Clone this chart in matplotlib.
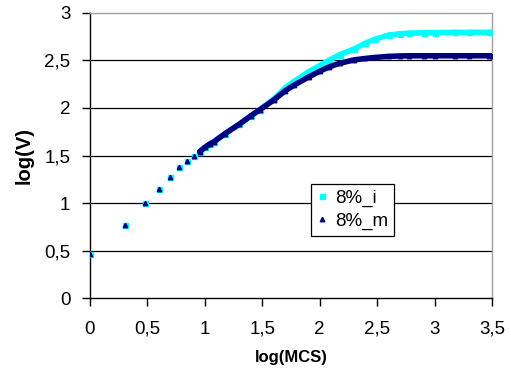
import numpy as np
import matplotlib
matplotlib.use("Agg")
import matplotlib.pyplot as plt
from matplotlib.ticker import FuncFormatter, MultipleLocator

plt.rcParams['font.family'] = ['Liberation Sans', 'DejaVu Sans']

# MCS steps (x axis is log10 of these)
mcs = [1, 2, 3, 4, 5, 6, 7, 8, 9, 10, 11, 12, 15, 20, 25, 30, 40, 50, 60,
       80, 100, 120, 150, 200, 250, 300, 400, 500, 600, 800, 1000, 1500,
       2000, 3000, 3160]

# log(V)
logv_i = [0.47, 0.77, 1.00, 1.145, 1.275, 1.375, 1.445, 1.50, 1.54, 1.585,
          1.62, 1.645, 1.73, 1.83, 1.915, 1.98, 2.095, 2.21, 2.28,
          2.38, 2.445, 2.50, 2.56, 2.62, 2.68, 2.72, 2.766, 2.78, 2.785,
          2.79, 2.792, 2.794, 2.794, 2.795, 2.795]
logv_m = [0.47, 0.77, 1.00, 1.145, 1.275, 1.375, 1.445, 1.50, 1.54, 1.585,
          1.62, 1.645, 1.73, 1.83, 1.915, 1.98, 2.085, 2.18, 2.24,
          2.325, 2.385, 2.43, 2.47, 2.505, 2.52, 2.53, 2.542, 2.546, 2.548,
          2.548, 2.548, 2.548, 2.548, 2.548, 2.548]

x = np.log10(mcs)
dense = np.array(mcs) >= 9

cyan = '#00ffff'
navy = '#000080'

fig = plt.figure(figsize=(5.11, 3.75), dpi=100)
ax = fig.add_axes([0.176, 0.2045, 0.787, 0.7615])

# dense part of each series shows as a solid band
ax.plot(x[dense], np.array(logv_i)[dense], '-', color=cyan, lw=4, zorder=3,
        solid_capstyle='round')
ax.plot(x[dense], np.array(logv_m)[dense], '-', color=navy, lw=4, zorder=4,
        solid_capstyle='round')
ax.plot(x, logv_i, 's', color=cyan, ms=3.6, mec=cyan, ls='none', zorder=3,
        label='8%_i')
ax.plot(x, logv_m, '^', color=navy, ms=3.2, mec=navy, ls='none', zorder=4,
        label='8%_m')

ax.set_xlim(0, 3.5)
ax.set_ylim(0, 3)
ax.xaxis.set_major_locator(MultipleLocator(0.5))
ax.yaxis.set_major_locator(MultipleLocator(0.5))
comma = FuncFormatter(lambda v, p: f'{v:g}'.replace('.', ','))
ax.xaxis.set_major_formatter(comma)
ax.yaxis.set_major_formatter(comma)

for yv in np.arange(0.5, 3.0, 0.5):
    ax.axhline(yv, color='black', lw=0.9, zorder=1)

ax.spines['left'].set_color('black')
ax.spines['bottom'].set_color('black')
ax.spines['top'].set_color('#a0a0a0')
ax.spines['right'].set_color('#a0a0a0')
for s in ax.spines.values():
    s.set_linewidth(1.0)

ax.tick_params(axis='both', direction='out', length=6, width=1,
               labelsize=13.5, color='black')
ax.tick_params(axis='y', pad=8)
ax.tick_params(axis='x', pad=10)

ax.set_xlabel('log(MCS)', fontsize=12, fontweight='bold', labelpad=9)
ax.set_ylabel('log(V)', fontsize=14.5, fontweight='bold', labelpad=8)

leg = ax.legend(loc='upper left', bbox_to_anchor=(0.549, 0.40),
                fontsize=13.5, frameon=True, fancybox=False, framealpha=1,
                edgecolor='black', borderpad=0.3, handlelength=0.6,
                handletextpad=0.4, labelspacing=0.3, markerscale=1.0,
                borderaxespad=0)
leg.get_frame().set_linewidth(0.9)
leg.set_zorder(10)

fig.savefig('out.png', dpi=100)
